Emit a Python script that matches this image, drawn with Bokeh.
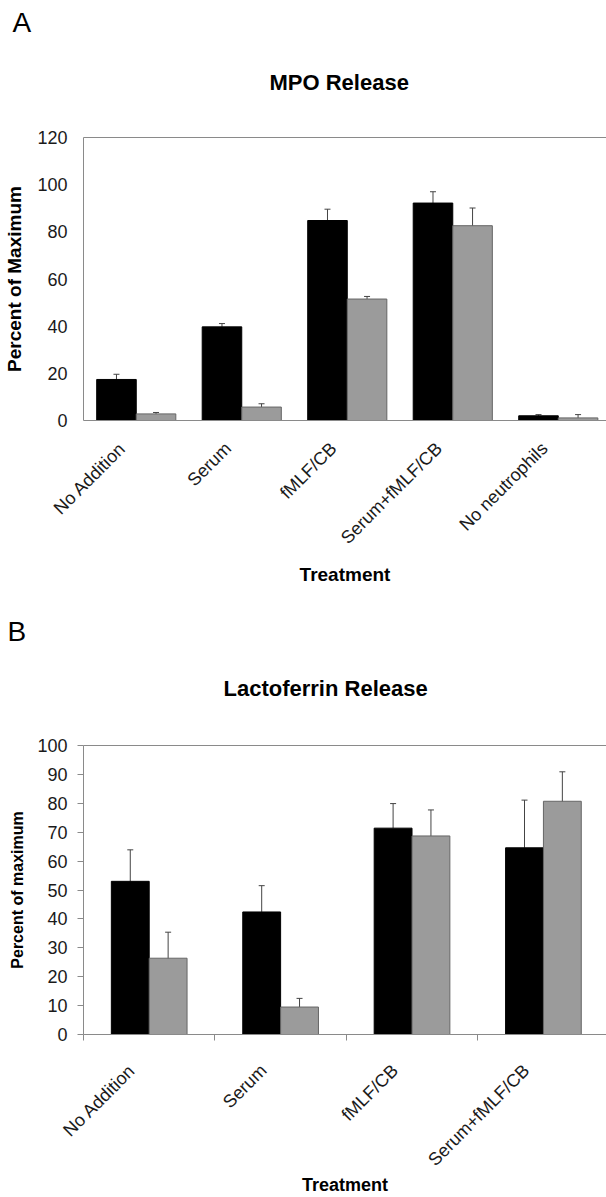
import math
from bokeh.plotting import figure
from bokeh.models import (ColumnDataSource, Range1d, FixedTicker, CustomJSTickFormatter,
                          Whisker, TeeHead, Title, LinearAxis)
from bokeh.layouts import column
from bokeh.embed import file_html
from bokeh.resources import INLINE

# ---- Panel A: MPO release ----
mpo_categories = ["No Addition", "Serum", "fMLF/CB", "Serum+fMLF/CB", "No neutrophils"]
mpo_black = [17.4, 39.7, 84.8, 92.2, 2.0]
mpo_black_err = [2.2, 1.4, 4.8, 4.8, 0.5]
mpo_gray = [2.8, 5.7, 51.5, 82.6, 1.1]
mpo_gray_err = [0.6, 1.4, 1.1, 7.5, 1.4]
mpo_yticks = [0, 20, 40, 60, 80, 100, 120]

# ---- Panel B: Lactoferrin release ----
lf_categories = ["No Addition", "Serum", "fMLF/CB", "Serum+fMLF/CB"]
lf_black = [53.0, 42.4, 71.4, 64.6]
lf_black_err = [10.9, 9.1, 8.5, 16.5]
lf_gray = [26.4, 9.5, 68.7, 80.7]
lf_gray_err = [9.0, 3.0, 9.0, 10.2]
lf_yticks = [0, 10, 20, 30, 40, 50, 60, 70, 80, 90, 100]

FONT = "Liberation Sans"
AXIS_GRAY = "#8a8a8a"
BAR_GRAY = "#9b9b9b"
ERR = "#444444"
LABEL_SHIFT = 0.13  # tick labels sit slightly left of the category centre


def panel(letter, title, cats, black, black_err, gray, gray_err, yticks, ylabel,
          bar_w, xend, height, min_top, min_left, min_bottom, boundary_ticks,
          y_tick_out, title_standoff, letter_standoff, letter_offset, title_offset,
          tick_size, ylabel_size, xlabel_size, x_standoff, xlabel_standoff,
          ylabel_standoff, top_gap):
    n = len(cats)
    centers = [i + 0.5 for i in range(n)]
    bounds = list(range(n + 1))
    p = figure(width=606, height=height, x_range=Range1d(0, xend),
               y_range=Range1d(0, yticks[-1]), output_backend="svg",
               toolbar_location=None, title=None,
               min_border_left=min_left, min_border_right=0,
               min_border_top=min_top, min_border_bottom=min_bottom)
    p.xgrid.visible = False
    p.ygrid.visible = False
    p.outline_line_color = None
    p.background_fill_color = "white"
    p.border_fill_color = "white"

    src_b = ColumnDataSource(dict(
        x=[c - bar_w / 2 for c in centers], top=black,
        upper=[v + e for v, e in zip(black, black_err)], lower=black))
    src_g = ColumnDataSource(dict(
        x=[c + bar_w / 2 for c in centers], top=gray,
        upper=[v + e for v, e in zip(gray, gray_err)],
        lower=[v - e for v, e in zip(gray, gray_err)]))
    p.vbar(x="x", top="top", bottom=0, width=bar_w, source=src_b,
           fill_color="black", line_color="black", line_width=1)
    p.vbar(x="x", top="top", bottom=0, width=bar_w, source=src_g,
           fill_color=BAR_GRAY, line_color="#666666", line_width=1)
    p.add_layout(Whisker(base="x", upper="upper", lower="lower", source=src_b,
                         line_color=ERR, line_width=1,
                         upper_head=TeeHead(size=6, line_color=ERR, line_width=1),
                         lower_head=None))
    p.add_layout(Whisker(base="x", upper="upper", lower="lower", source=src_g,
                         line_color=ERR, line_width=1,
                         upper_head=TeeHead(size=6, line_color=ERR, line_width=1),
                         lower_head=TeeHead(size=6, line_color=ERR, line_width=1)))

    # x axis
    xa = p.xaxis[0]
    xa.ticker = FixedTicker(ticks=[c - LABEL_SHIFT for c in centers],
                            minor_ticks=bounds if boundary_ticks else [])
    xa.formatter = CustomJSTickFormatter(args=dict(names=cats),
                                         code="return names[Math.floor(tick)];")
    xa.major_label_orientation = math.pi / 4
    xa.major_tick_line_color = None
    xa.major_tick_out = 0
    xa.major_tick_in = 0
    xa.minor_tick_in = 0
    xa.minor_tick_out = 6
    xa.minor_tick_line_color = AXIS_GRAY if boundary_ticks else None
    xa.axis_line_color = AXIS_GRAY
    xa.major_label_text_font = FONT
    xa.major_label_text_font_size = tick_size
    xa.major_label_text_color = "#1a1a1a"
    xa.major_label_standoff = x_standoff
    xa.axis_label = "Treatment"
    xa.axis_label_text_font = FONT
    xa.axis_label_text_font_style = "bold"
    xa.axis_label_text_font_size = xlabel_size
    xa.axis_label_text_color = "black"
    xa.axis_label_standoff = xlabel_standoff

    # y axis
    ya = p.yaxis[0]
    ya.ticker = FixedTicker(ticks=yticks)
    ya.axis_line_color = AXIS_GRAY
    ya.major_tick_line_color = AXIS_GRAY if y_tick_out > 0 else None
    ya.major_tick_out = y_tick_out
    ya.major_tick_in = 0
    ya.minor_tick_line_color = None
    ya.major_label_text_font = FONT
    ya.major_label_text_font_size = tick_size
    ya.major_label_text_color = "#1a1a1a"
    ya.major_label_standoff = 16 - y_tick_out
    ya.axis_label = ylabel
    ya.axis_label_text_font = FONT
    ya.axis_label_text_font_style = "bold"
    ya.axis_label_text_font_size = ylabel_size
    ya.axis_label_text_color = "black"
    ya.axis_label_standoff = ylabel_standoff

    # top border line of the plot area (its invisible tick leaves room
    # between the frame and the title)
    top_axis = LinearAxis(ticker=FixedTicker(ticks=[0]), axis_line_color=AXIS_GRAY,
                          major_tick_line_color=None, minor_tick_line_color=None,
                          major_label_text_font_size="0px",
                          major_label_text_alpha=0, major_tick_out=top_gap,
                          major_tick_in=0, major_label_standoff=0)
    p.add_layout(top_axis, "above")

    p.add_layout(Title(text=title, align="left", offset=title_offset,
                       text_font=FONT, text_font_style="bold", text_font_size="22px",
                       text_color="black", standoff=title_standoff), "above")
    p.add_layout(Title(text=letter, align="left", offset=letter_offset,
                       text_font=FONT, text_font_style="normal", text_font_size="28px",
                       text_color="black", standoff=letter_standoff), "above")
    return p


pa = panel("A", "MPO Release", mpo_categories, mpo_black, mpo_black_err,
           mpo_gray, mpo_gray_err, mpo_yticks, "Percent of Maximum",
           bar_w=0.375, xend=4.957, height=600, min_top=137, min_left=83,
           min_bottom=180, boundary_ticks=False, y_tick_out=0, title_standoff=50,
           letter_standoff=9, letter_offset=-71, title_offset=186,
           tick_size="18px", ylabel_size="19px", xlabel_size="19px",
           x_standoff=25, xlabel_standoff=6, ylabel_standoff=9, top_gap=18)

pb = panel("B", "Lactoferrin Release", lf_categories, lf_black, lf_black_err,
           lf_gray, lf_gray_err, lf_yticks, "Percent of maximum",
           bar_w=0.288, xend=3.98, height=597, min_top=145, min_left=82,
           min_bottom=163, boundary_ticks=True, y_tick_out=6, title_standoff=33,
           letter_standoff=22, letter_offset=-76, title_offset=140,
           tick_size="18px", ylabel_size="16px", xlabel_size="18px",
           x_standoff=27, xlabel_standoff=-5, ylabel_standoff=8, top_gap=28)

layout = column(pa, pb, spacing=0)
open("out.html", "w").write(file_html(layout, INLINE))
